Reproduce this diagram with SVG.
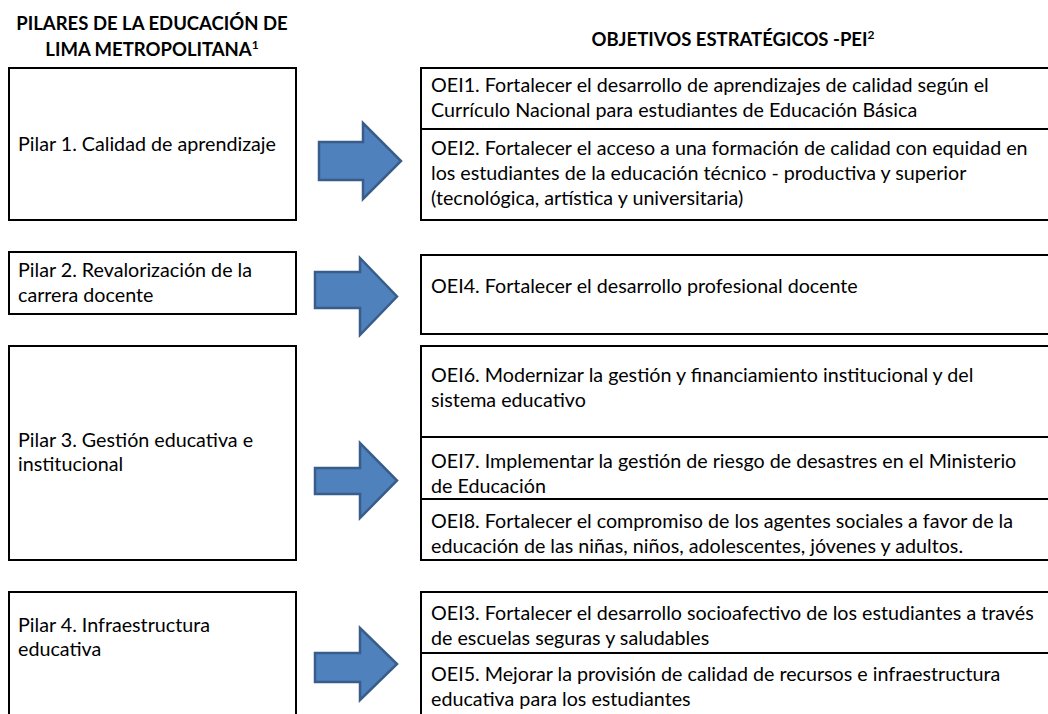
<svg xmlns="http://www.w3.org/2000/svg" width="1048" height="714" viewBox="0 0 1048 714">
<style>
.bg{fill:#ffffff}
.box{fill:#ffffff;stroke:#000000;stroke-width:2}
.sep{stroke:#000000;stroke-width:2}
.t{font-family:Lato,"Liberation Sans",sans-serif;font-size:19.7px;fill:#000000}
.h{font-family:Lato,"Liberation Sans",sans-serif;font-size:18.5px;font-weight:bold;fill:#000000}
.arrow{fill:#4F81BD;stroke:#385D8A;stroke-width:2.5;stroke-linejoin:miter}
</style>
<rect class="bg" x="0" y="0" width="1048" height="714"/>
<g id="headers">
<text class="h" x="152" y="30" text-anchor="middle">PILARES DE LA EDUCACIÓN DE</text>
<text class="h" x="152" y="56" text-anchor="middle">LIMA METROPOLITANA<tspan font-size="12" dy="-7">1</tspan></text>
<text class="h" x="733" y="46" text-anchor="middle">OBJETIVOS ESTRATÉGICOS -PEI<tspan font-size="12" dy="-7">2</tspan></text>
</g>
<g id="pilar1">
<rect class="box" x="9" y="68" width="287" height="152"/>
<text class="t" x="18" y="151">Pilar 1. Calidad de aprendizaje</text>
</g>
<g id="pilar2">
<rect class="box" x="9" y="252" width="287" height="62"/>
<text class="t" x="18" y="277">Pilar 2. Revalorización de la</text>
<text class="t" x="18" y="302">carrera docente</text>
</g>
<g id="pilar3">
<rect class="box" x="9" y="346" width="287" height="214"/>
<text class="t" x="18" y="447">Pilar 3. Gestión educativa e</text>
<text class="t" x="18" y="471">institucional</text>
</g>
<g id="pilar4">
<rect class="box" x="9" y="592" width="287" height="140"/>
<text class="t" x="18" y="632">Pilar 4. Infraestructura</text>
<text class="t" x="18" y="656">educativa</text>
</g>
<g id="connectors">
<polygon class="arrow" points="319,142 363,142 363,123 401,161 363,199 363,180 319,180"/>
<polygon class="arrow" points="315,272 360,272 360,258 397,296.5 360,335 360,308 315,308"/>
<polygon class="arrow" points="315,468 360,468 360,443 397,480.5 360,518 360,494 315,494"/>
<polygon class="arrow" points="315,653 360,653 360,628 397,664 360,700 360,682 315,682"/>
</g>
<g id="oei-group1">
<rect class="box" x="421" y="68" width="640" height="152"/>
<line class="sep" x1="421" y1="129" x2="1061" y2="129"/>
<text class="t" x="431" y="92">OEI1. Fortalecer el desarrollo de aprendizajes de calidad según el</text>
<text class="t" x="431" y="117">Currículo Nacional para estudiantes de Educación Básica</text>
<text class="t" x="431" y="155">OEI2. Fortalecer el acceso a una formación de calidad con equidad en</text>
<text class="t" x="431" y="180">los estudiantes de la educación técnico - productiva y superior</text>
<text class="t" x="431" y="205">(tecnológica, artística y universitaria)</text>
</g>
<g id="oei-group2">
<rect class="box" x="421" y="255" width="640" height="79"/>
<text class="t" x="431" y="293">OEI4. Fortalecer el desarrollo profesional docente</text>
</g>
<g id="oei-group3">
<rect class="box" x="421" y="346" width="640" height="214"/>
<line class="sep" x1="421" y1="437" x2="1061" y2="437"/>
<line class="sep" x1="421" y1="499" x2="1061" y2="499"/>
<text class="t" x="431" y="382">OEI6. Modernizar la gestión y financiamiento institucional y del</text>
<text class="t" x="431" y="407">sistema educativo</text>
<text class="t" x="431" y="468">OEI7. Implementar la gestión de riesgo de desastres en el Ministerio</text>
<text class="t" x="431" y="493">de Educación</text>
<text class="t" x="431" y="528">OEI8. Fortalecer el compromiso de los agentes sociales a favor de la</text>
<text class="t" x="431" y="553">educación de las niñas, niños, adolescentes, jóvenes y adultos.</text>
</g>
<g id="oei-group4">
<rect class="box" x="421" y="592" width="640" height="140"/>
<line class="sep" x1="421" y1="653" x2="1061" y2="653"/>
<text class="t" x="431" y="620">OEI3. Fortalecer el desarrollo socioafectivo de los estudiantes a través</text>
<text class="t" x="431" y="645">de escuelas seguras y saludables</text>
<text class="t" x="431" y="681">OEI5. Mejorar la provisión de calidad de recursos e infraestructura</text>
<text class="t" x="431" y="706">educativa para los estudiantes</text>
</g>
</svg>
